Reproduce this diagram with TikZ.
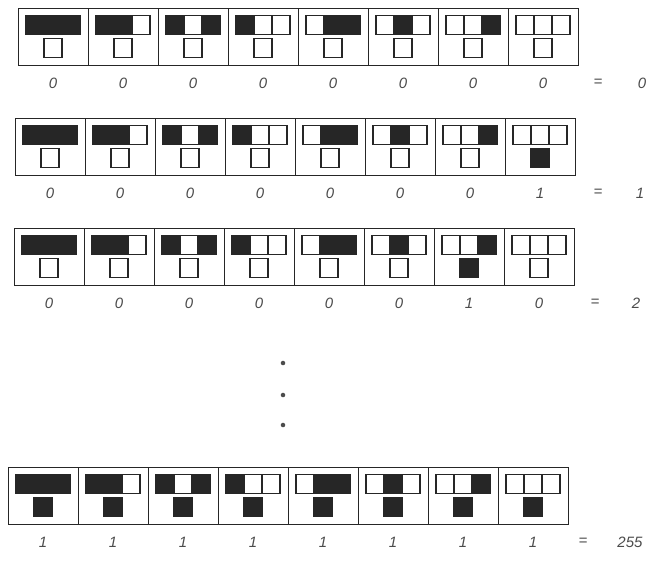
\documentclass[tikz,border=0pt]{standalone}
\usepackage{fontspec}
\setmainfont{Liberation Sans}
\begin{document}
\begin{tikzpicture}[x=1pt,y=-1pt,
  cellbox/.style={draw=black!85, line width=1.2pt, minimum width=70pt, minimum height=57pt, inner sep=0pt, anchor=north west},
  sq1/.style={draw=black!85, fill=black!85, line width=1.2pt, minimum width=18pt, minimum height=19pt, inner sep=0pt},
  sq0/.style={draw=black!85, fill=white, line width=1.2pt, minimum width=18pt, minimum height=19pt, inner sep=0pt},
  bit/.style={font=\fontsize{15}{15}\selectfont\itshape, text=black!70},
  dot/.style={circle, fill=black!70, inner sep=1.6pt},
]
\useasboundingbox (0,0) rectangle (653,566);
\foreach \row/\x/\y/\rule/\eqx/\resx in {1/18/8/0/598/642, 2/15/118/1/598/640, 3/14/228/2/595/636, 4/8/467/255/583/630}{
  \foreach \k/\l/\m/\r in {0/1/1/1,1/1/1/0,2/1/0/1,3/1/0/0,4/0/1/1,5/0/1/0,6/0/0/1,7/0/0/0}{
    \pgfmathsetmacro\cx{\x+35+70*\k}
    \pgfmathtruncatemacro\ob{mod(floor(\rule/2^(7-\k)),2)}
    \node[cellbox] (r\row c\k) at (\x+70*\k,\y) {};
    \node[sq\l] (r\row c\k l) at (\cx-18,\y+17) {};
    \node[sq\r] (r\row c\k r) at (\cx+18,\y+17) {};
    \node[sq\m] (r\row c\k m) at (\cx,\y+17) {};
    \node[sq\ob] (r\row c\k o) at (\cx,\y+40) {};
    \node[bit] (r\row b\k) at (\cx,\y+75) {\ob};
  }
  \node[bit] (r\row eq) at (\eqx,\y+75) {=};
  \node[bit] (r\row res) at (\resx,\y+75) {\rule};
}
\node[dot] (d1) at (283,363) {};
\node[dot] (d2) at (283,395) {};
\node[dot] (d3) at (283,425) {};
\end{tikzpicture}
\end{document}
